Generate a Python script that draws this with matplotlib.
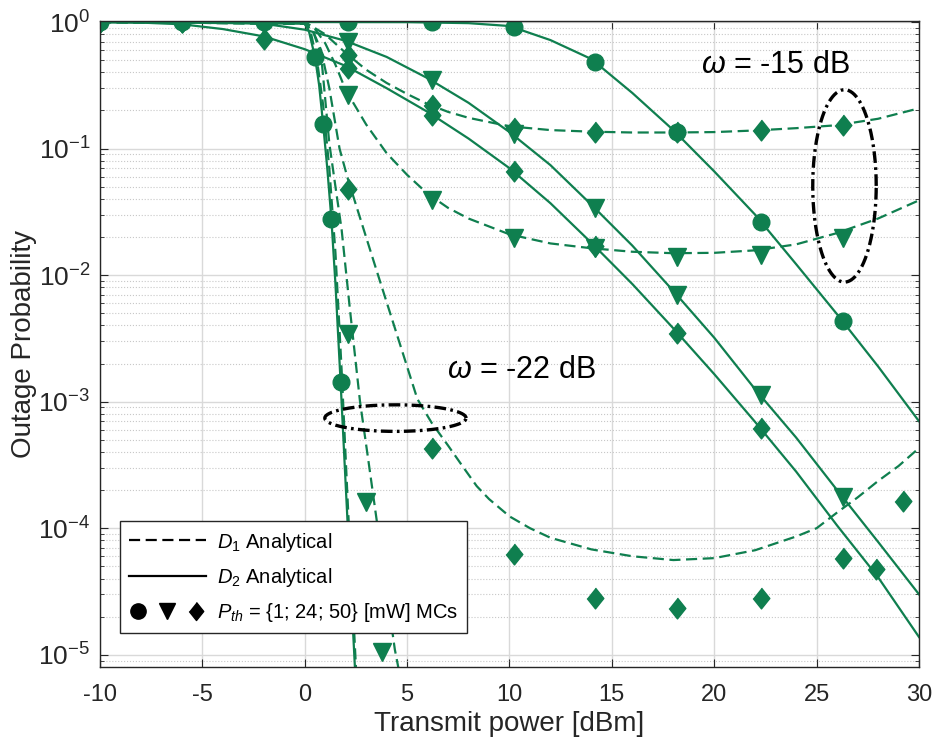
import numpy as np
import matplotlib
matplotlib.use('Agg')
import matplotlib.pyplot as plt
from matplotlib.lines import Line2D
from matplotlib.legend_handler import HandlerTuple
from matplotlib.ticker import LogLocator, NullFormatter, MultipleLocator

plt.rcParams['font.family'] = ['Liberation Sans', 'DejaVu Sans']
plt.rcParams['mathtext.fontset'] = 'custom'
plt.rcParams['mathtext.rm'] = 'Liberation Sans'
plt.rcParams['mathtext.it'] = 'Liberation Sans:italic'
plt.rcParams['axes.unicode_minus'] = False

green = '#0F7F4F'
diam = [(0, 1), (0.8, 0), (0, -1), (-0.8, 0)]  # matlab-like diamond

# ---------------- omega = -15 dB ----------------
# D2 analytical (solid)
x_s1 = [-10, 0, 5, 8, 10, 12, 14, 16, 18, 20, 22, 24, 26, 28, 30]
y_s1 = [1, 1, 0.998, 0.98, 0.93, 0.72, 0.51, 0.275, 0.14, 0.066, 0.03, 0.0122, 0.0049, 0.0019, 7e-4]
x_s2 = [-10, -6, -4, -2, 0, 2, 4, 6, 8, 10, 12, 14, 16, 18, 20, 22, 24, 26, 28, 30]
y_s2 = [1, 1, 0.995, 0.97, 0.87, 0.71, 0.53, 0.36, 0.23, 0.135, 0.074, 0.036, 0.0171, 0.0075,
        0.0032, 0.00125, 5.2e-4, 2e-4, 7.8e-5, 3e-5]
x_s3 = [-10, -8, -6, -4, -2, 0, 2, 4, 6, 8, 10, 12, 14, 16, 18, 20, 22, 24, 26, 28, 30]
y_s3 = [1, 0.99, 0.96, 0.88, 0.77, 0.61, 0.45, 0.3, 0.195, 0.12, 0.07, 0.037, 0.018, 0.0085,
        0.0038, 0.00165, 6.9e-4, 2.8e-4, 1.05e-4, 4.1e-5, 1.38e-5]
# D1 analytical (dashed)
x_d15b = [-10, 0, 0.5, 1, 1.5, 2, 3, 4, 5, 6, 7, 8, 10, 12, 14, 16, 18, 20, 22, 24, 26, 28, 30]
y_d15b = [1, 1, 0.88, 0.68, 0.46, 0.29, 0.155, 0.092, 0.062, 0.044, 0.034, 0.028, 0.021, 0.0178,
          0.0163, 0.0153, 0.0149, 0.015, 0.0157, 0.0175, 0.0215, 0.028, 0.039]
x_d15c = [-10, 0, 1, 2, 3, 4, 5, 6, 7, 8, 10, 12, 14, 16, 18, 20, 22, 24, 26, 28, 30]
y_d15c = [1, 1, 0.8, 0.57, 0.42, 0.33, 0.27, 0.225, 0.195, 0.175, 0.15, 0.14, 0.136, 0.134, 0.134,
          0.135, 0.139, 0.145, 0.153, 0.172, 0.208]

# ---------------- omega = -22 dB ----------------
x_s4 = [-10, 0, 0.2, 0.5, 0.7, 0.9, 1.1, 1.3, 1.5, 1.75, 2.0, 2.2, 2.45]
y_s4 = [1, 0.97, 0.85, 0.53, 0.32, 0.155, 0.07, 0.028, 0.0085, 1.44e-3, 2.2e-4, 5e-5, 8e-6]
x_d22a = [-10, 0, 0.3, 0.6, 0.9, 1.2, 1.5, 1.8, 2.1, 2.5]
y_d22a = [1, 0.97, 0.82, 0.5, 0.22, 0.07, 0.015, 1.8e-3, 1.6e-4, 8e-6]
x_d22b = [-10, 0, 0.4, 0.8, 1.2, 1.5, 1.8, 2.2, 2.7, 3.1, 3.5, 4.0, 4.4, 4.6]
y_d22b = [1, 0.97, 0.85, 0.55, 0.11, 0.05, 0.023, 5.5e-3, 1e-3, 3.5e-4, 1.2e-4, 3.2e-5, 1.1e-5, 7.5e-6]
x_d22c = [-10, 0, 0.4, 0.8, 1.2, 1.7, 2.1, 2.5, 3.5, 4.5, 5.5, 6.2, 7, 7.7, 8.4, 9, 10, 11, 12, 14,
          16, 18, 20, 22, 24, 25, 26, 27, 28, 29, 30]
y_d22c = [1, 0.97, 0.85, 0.6, 0.3, 0.1, 0.058, 0.036, 0.011, 3.4e-3, 1.05e-3, 6.8e-4, 4.5e-4,
          3.1e-4, 2.15e-4, 1.7e-4, 1.24e-4, 1.0e-4, 8.4e-5, 6.8e-5, 6.0e-5, 5.6e-5, 5.8e-5,
          6.7e-5, 8.6e-5, 1.0e-4, 1.33e-4, 1.75e-4, 2.36e-4, 3.1e-4, 4.3e-4]

# ---------------- Monte Carlo points ----------------
mc_c1_x = [-10, -6, -2, 2.1, 6.2, 10.2, 14.2, 18.2, 22.3, 26.3]
mc_c1_y = [1, 1, 1, 1, 1, 0.92, 0.486, 0.136, 0.0265, 0.0043]
mc_c2_x = [0.5, 0.9, 1.3, 1.75]
mc_c2_y = [0.53, 0.155, 0.028, 1.44e-3]
mc_t1_x = [-10, -6, -2, 2.1, 6.2, 10.2, 14.2, 18.2, 22.3, 26.3]
mc_t1_y = [1, 1, 1, 0.70, 0.35, 0.13, 0.034, 0.0070, 0.00113, 1.78e-4]
mc_t2_x = [2.1, 6.2, 10.2, 14.2, 18.2, 22.3, 26.3]
mc_t2_y = [0.265, 0.039, 0.0196, 0.0163, 0.014, 0.0145, 0.0196]
mc_t3_x = [2.12, 3.0, 3.75]
mc_t3_y = [3.4e-3, 1.62e-4, 1.06e-5]
mc_d1_x = [-10, -6, -2, 2.1, 6.2, 10.2, 14.2, 18.2, 22.3]
mc_d1_y = [1, 1, 0.74, 0.43, 0.185, 0.066, 0.017, 0.0035, 6.2e-4]
mc_d2_x = [-10, -6, -2, 2.1, 6.2, 10.2, 14.2, 18.2, 22.3, 26.3]
mc_d2_y = [1, 1, 1, 0.55, 0.22, 0.145, 0.136, 0.135, 0.14, 0.153]
mc_d3_x = [2.12, 6.2, 10.2, 14.2, 18.2, 22.3, 26.3, 27.9, 29.2]
mc_d3_y = [0.048, 4.3e-4, 6.2e-5, 2.8e-5, 2.35e-5, 2.8e-5, 5.8e-5, 4.8e-5, 1.63e-4]

fig = plt.figure(figsize=(9.37, 7.44), dpi=100)
ax = fig.add_axes([0.1067, 0.1035, 0.8741, 0.8687])

lw = 1.6
dash = (5, 2.5)
for xs, ys in [(x_s1, y_s1), (x_s2, y_s2), (x_s3, y_s3), (x_s4, y_s4)]:
    ax.plot(xs, ys, color=green, lw=lw)
for xs, ys in [(x_d15b, y_d15b), (x_d15c, y_d15c), (x_d22a, y_d22a), (x_d22b, y_d22b), (x_d22c, y_d22c)]:
    ax.plot(xs, ys, color=green, lw=lw, ls='--', dashes=dash)

for xs, ys in [(mc_c1_x, mc_c1_y), (mc_c2_x, mc_c2_y)]:
    ax.plot(xs, ys, 'o', color=green, ms=12, mec=green)
for xs, ys in [(mc_t1_x, mc_t1_y), (mc_t2_x, mc_t2_y), (mc_t3_x, mc_t3_y)]:
    ax.plot(xs, ys, 'v', color=green, ms=13, mec=green)
for xs, ys in [(mc_d1_x, mc_d1_y), (mc_d2_x, mc_d2_y), (mc_d3_x, mc_d3_y)]:
    ax.plot(xs, ys, ls='none', marker=diam, color=green, ms=15, mec=green)

# ellipses grouping the curves
t = np.linspace(0, 2 * np.pi, 300)
ell = (0, (3.5, 1.3, 0.8, 1.3))
ax.plot(26.36 + 1.55 * np.cos(t), 10 ** (-1.295 + 0.76 * np.sin(t)), color='k', lw=2.4, ls=ell)
ax.plot(4.43 + 3.45 * np.cos(t), 10 ** (-3.13 + 0.105 * np.sin(t)), color='k', lw=2.4, ls=ell)
ax.text(23.0, 10 ** -0.34, r'$\omega$ = -15 dB', fontsize=22, ha='center', va='center')
ax.text(10.6, 10 ** -2.75, r'$\omega$ = -22 dB', fontsize=22, ha='center', va='center')

ax.set_yscale('log')
ax.set_xlim(-10, 30)
ax.set_ylim(8e-6, 1.025)
ax.xaxis.set_major_locator(MultipleLocator(5))
ax.yaxis.set_major_locator(LogLocator(base=10, numticks=10))
ax.yaxis.set_minor_locator(LogLocator(base=10, subs=np.arange(2, 10), numticks=12))
ax.yaxis.set_minor_formatter(NullFormatter())

ax.grid(True, which='major', color='#d9d9d9', lw=1)
ax.grid(True, which='minor', axis='y', color='#c8c8c8', lw=0.8, ls=':')
ax.set_axisbelow(True)
ax.tick_params(which='both', direction='in', top=True, right=True, colors='#262626',
               labelcolor='#262626')
ax.tick_params(axis='x', labelsize=17, pad=12)
ax.tick_params(axis='y', labelsize=19, pad=7)
ax.tick_params(which='major', length=6)
ax.tick_params(which='minor', length=3)
for s in ax.spines.values():
    s.set_color('#262626')
    s.set_linewidth(1)

ax.set_xlabel('Transmit power [dBm]', fontsize=20, color='#262626', labelpad=4)
ax.set_ylabel('Outage Probability', fontsize=20, color='#262626', labelpad=1)

h1 = Line2D([], [], color='k', lw=lw, ls='--', dashes=dash)
h2 = Line2D([], [], color='k', lw=lw)
h3 = (Line2D([], [], color='k', marker='o', ls='none', ms=11),
      Line2D([], [], color='k', marker='v', ls='none', ms=12),
      Line2D([], [], color='k', marker=diam, ls='none', ms=13))
leg = ax.legend([h1, h2, h3],
                [r'$D_1$ Analytical', r'$D_2$ Analytical', r'$P_{th}$ = {1; 24; 50} [mW] MCs'],
                handler_map={tuple: HandlerTuple(ndivide=None, pad=0.5)},
                loc='lower left', bbox_to_anchor=(0.0244, 0.053), borderaxespad=0,
                fontsize=14.5, handlelength=3.8, handletextpad=0.55, fancybox=False, framealpha=1,
                edgecolor='#262626', labelspacing=0.6, borderpad=0.45)
leg.get_frame().set_linewidth(1)

fig.savefig('out.png', dpi=100)
